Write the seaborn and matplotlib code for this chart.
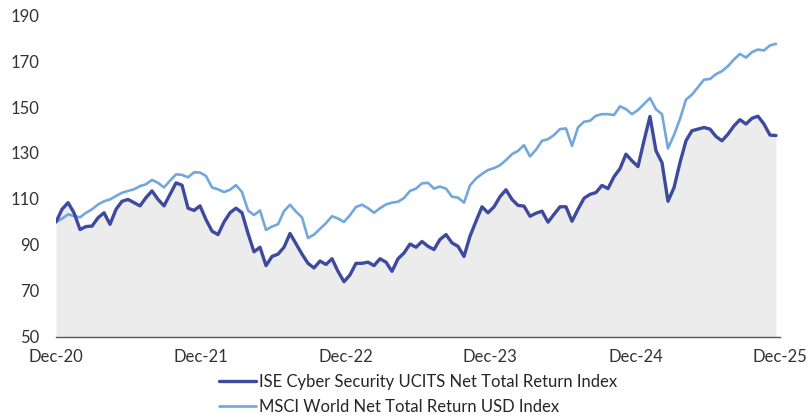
import matplotlib
matplotlib.use('Agg')
import matplotlib.pyplot as plt
import pandas as pd
import seaborn as sns

# Valores (pontos quinzenais, base 100 em Dec-20)
cyber = [100, 105.5, 108.4, 104, 96.7, 98, 98.2, 101.8, 104, 99,
         105.5, 109, 109.8, 108.4, 107, 110.6, 113.5, 109.8, 107, 112,
         117, 116, 106, 105, 107, 101, 96, 94.5, 100, 104,
         106, 104, 95, 87, 89, 81, 85, 86, 89, 95,
         90.5, 86, 82, 80, 83, 81.5, 84, 78.5, 74, 77,
         82, 82, 82.5, 81, 84, 82.5, 78.5, 84, 86.5, 90.4,
         89, 91.5, 89.4, 88, 92.4, 94.5, 90.9, 89.4, 85, 93.8,
         100.3, 106.6, 104, 106.6, 111, 114, 109.8, 107.2, 106.9, 102.5,
         103.8, 104.7, 99.9, 103.3, 106.6, 106.6, 100.3, 105.5, 110.3, 112,
         112.8, 115.9, 114.5, 119.7, 123.2, 129.5, 126.6, 124.1, 135.3, 145.9,
         131, 125.8, 109, 114.9, 125.8, 135.3, 139.7, 140.4, 141.1, 140.4,
         137.2, 135.3, 138.2, 141.8, 144.5, 142.6, 145.1, 146, 142.6, 137.8,
         137.6]

msci = [100, 101.4, 103.3, 102.6, 102, 104, 105.5, 107.6, 109, 109.8,
        111.3, 112.7, 113.5, 114.2, 115.6, 116.4, 118.3, 117, 115, 118,
        120.7, 120.5, 119.4, 121.6, 121.5, 120, 115, 114.2, 113, 114,
        116, 113, 105, 103, 105, 96.5, 98, 99, 104.7, 107.5,
        104.5, 102, 93, 94.5, 97, 99.5, 102.5, 101.5, 100, 103,
        106.5, 107.5, 106, 104, 106, 107.6, 108.4, 108.8, 110.4, 113.5,
        114.5, 116.8, 117, 114.5, 115.4, 114.5, 111, 110.6, 108.4, 115.9,
        118.9, 120.9, 122.6, 123.4, 124.7, 126.9, 129.5, 130.9, 133.4, 128.5,
        131.4, 135.3, 136, 137.8, 140.4, 140.7, 133.1, 141.1, 143.6, 144,
        146.2, 146.9, 146.9, 146.5, 150.3, 149.1, 146.9, 148.7, 151.3, 153.9,
        149, 146.9, 132, 137.8, 144.8, 153.2, 155.4, 158.6, 161.9, 162.2,
        164.3, 165.6, 167.8, 170.7, 173.1, 171.5, 173.9, 175, 174.6, 176.8,
        177.5]

datas = pd.date_range('2020-12-31', '2025-12-20', periods=len(cyber))
nomes = ['ISE Cyber Security UCITS Net Total Return Index',
         'MSCI World Net Total Return USD Index']
ticks_x = pd.to_datetime(['2020-12-31', '2021-12-31', '2022-12-31',
                          '2023-12-31', '2024-12-31', '2025-12-31'])
labels_x = ['Dec-20', 'Dec-21', 'Dec-22', 'Dec-23', 'Dec-24', 'Dec-25']
ticks_y = [50, 70, 90, 110, 130, 150, 170, 190]

sns.set_style('white')
plt.rcParams['font.family'] = ['Lato', 'DejaVu Sans']

cor_escura = '#3d4a9e'
cor_clara = '#72a7de'

fig = plt.figure(figsize=(8.12, 4.19), dpi=100)
ax = fig.add_axes([0.069, 0.196, 0.892, 0.768])

# Área cinza sob o índice de cyber security
ax.fill_between(datas, cyber, 50, color='#ececec', lw=0, zorder=1)
sns.lineplot(x=datas, y=msci, ax=ax, color=cor_clara, lw=1.9, label=nomes[1], zorder=2)
sns.lineplot(x=datas, y=cyber, ax=ax, color=cor_escura, lw=2.4, label=nomes[0], zorder=3)

ax.set_xlim(ticks_x[0], ticks_x[-1])
ax.set_ylim(50, 190)
ax.set_xticks(ticks_x)
ax.set_xticklabels(labels_x)
ax.set_yticks(ticks_y)
ax.set_xlabel('')
ax.set_ylabel('')

for lado in ['top', 'right', 'left']:
    ax.spines[lado].set_visible(False)
ax.spines['bottom'].set_color('#555555')
ax.spines['bottom'].set_linewidth(1.0)
ax.tick_params(axis='x', length=5, width=1, color='#555555', labelsize=12, labelcolor='#333333', pad=4)
ax.tick_params(axis='y', length=0, labelsize=12, labelcolor='#333333', pad=12)

handles, labels = ax.get_legend_handles_labels()
ax.legend(handles[::-1], labels[::-1], loc='upper center', bbox_to_anchor=(0.5, -0.09),
          ncol=1, frameon=False, fontsize=12, handlelength=2.2, handletextpad=0.2,
          labelspacing=0.5, borderpad=0)

fig.savefig('out.png', dpi=100)
